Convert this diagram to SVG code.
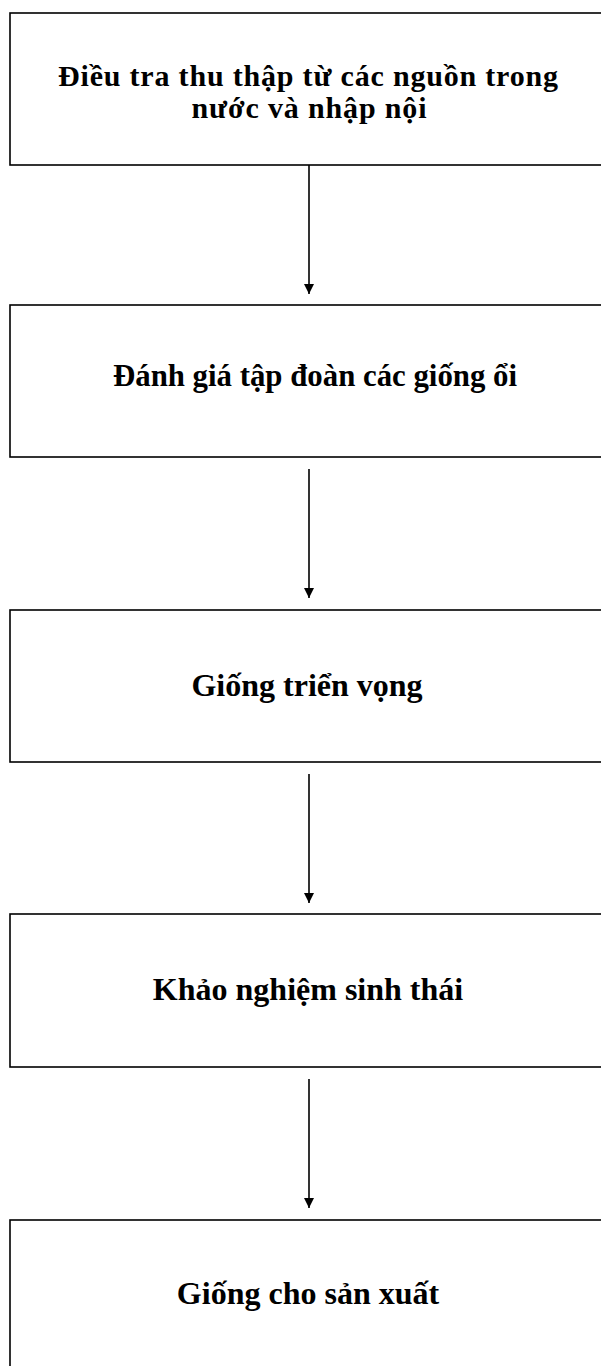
<svg xmlns="http://www.w3.org/2000/svg" width="601" height="1366" viewBox="0 0 601 1366">
<defs>
<style>
.box{fill:#fff;stroke:#000;stroke-width:1.6}
.t{font-family:"Liberation Serif","Times New Roman",serif;font-weight:bold;font-size:32px;fill:#000;text-anchor:middle}
.s{font-size:30px}
.c{stroke:#000;stroke-width:1.6;fill:none}
</style>
<marker id="ah" viewBox="0 0 10 10" refX="10" refY="5" markerWidth="10" markerHeight="10" markerUnits="userSpaceOnUse" orient="auto">
<path d="M0,0 L10,5 L0,10 z" fill="#000"/>
</marker>
</defs>
<rect width="601" height="1366" fill="#fff"/>
<g id="n1"><rect class="box" x="10" y="13" width="600" height="152"/>
<text class="t s" x="308" y="86" textLength="500" lengthAdjust="spacing">Điều tra thu thập từ các nguồn trong</text>
<text class="t s" x="309" y="118" textLength="235" lengthAdjust="spacing">nước và nhập nội</text></g>
<g id="n2"><rect class="box" x="10" y="305" width="600" height="152"/>
<text class="t" x="315" y="386" textLength="404" lengthAdjust="spacingAndGlyphs">Đánh giá tập đoàn các giống ổi</text></g>
<g id="n3"><rect class="box" x="10" y="610" width="600" height="152"/>
<text class="t" x="307" y="696">Giống triển vọng</text></g>
<g id="n4"><rect class="box" x="10" y="914" width="600" height="153"/>
<text class="t" x="308" y="1000">Khảo nghiệm sinh thái</text></g>
<g id="n5"><rect class="box" x="10" y="1220" width="600" height="160"/>
<text class="t" x="308" y="1304">Giống cho sản xuất</text></g>
<g id="connectors">
<line class="c" x1="309" y1="165" x2="309" y2="294" marker-end="url(#ah)"/>
<line class="c" x1="309" y1="469" x2="309" y2="598" marker-end="url(#ah)"/>
<line class="c" x1="309" y1="774" x2="309" y2="903" marker-end="url(#ah)"/>
<line class="c" x1="309" y1="1079" x2="309" y2="1208" marker-end="url(#ah)"/>
</g>
</svg>
